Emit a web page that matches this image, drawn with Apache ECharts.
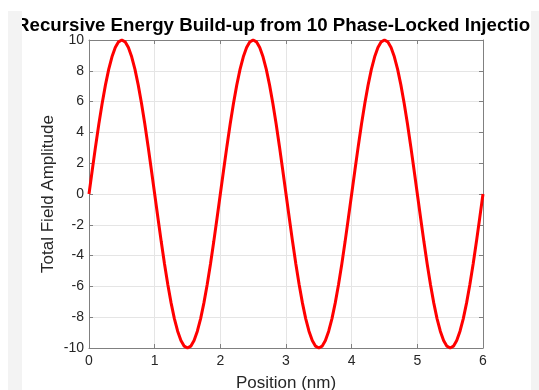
<!DOCTYPE html>
<html><head><meta charset="utf-8">
<script src="https://cdn.jsdelivr.net/npm/echarts@6/dist/echarts.min.js"></script>
<style>html,body{margin:0;padding:0;background:#fff}#c{width:539px;height:390px}</style>
</head><body><div id="c"></div>
<script>
var titleText = 'Recursive Energy Build-up from 10 Phase-Locked Injections';
var xLabel = 'Position (nm)';
var yLabel = 'Total Field Amplitude';
var xTicks = [0, 1, 2, 3, 4, 5, 6];
var yTicks = [-10, -8, -6, -4, -2, 0, 2, 4, 6, 8, 10];
var positions = [
0,0.05,0.1,0.15,0.2,0.25,0.3,0.35,0.4,0.45,0.5,0.55,0.6,0.65,0.7,0.75,0.8,0.85,0.9,0.95,
1,1.05,1.1,1.15,1.2,1.25,1.3,1.35,1.4,1.45,1.5,1.55,1.6,1.65,1.7,1.75,1.8,1.85,1.9,1.95,
2,2.05,2.1,2.15,2.2,2.25,2.3,2.35,2.4,2.45,2.5,2.55,2.6,2.65,2.7,2.75,2.8,2.85,2.9,2.95,
3,3.05,3.1,3.15,3.2,3.25,3.3,3.35,3.4,3.45,3.5,3.55,3.6,3.65,3.7,3.75,3.8,3.85,3.9,3.95,
4,4.05,4.1,4.15,4.2,4.25,4.3,4.35,4.4,4.45,4.5,4.55,4.6,4.65,4.7,4.75,4.8,4.85,4.9,4.95,
5,5.05,5.1,5.15,5.2,5.25,5.3,5.35,5.4,5.45,5.5,5.55,5.6,5.65,5.7,5.75,5.8,5.85,5.9,5.95,6
];
var amplitude = [
0,1.56,3.09,4.54,5.88,7.07,8.09,8.91,9.51,9.88,10,9.88,9.51,8.91,8.09,7.07,5.88,4.54,3.09,1.56,
0,-1.56,-3.09,-4.54,-5.88,-7.07,-8.09,-8.91,-9.51,-9.88,-10,-9.88,-9.51,-8.91,-8.09,-7.07,-5.88,-4.54,-3.09,-1.56,
0,1.56,3.09,4.54,5.88,7.07,8.09,8.91,9.51,9.88,10,9.88,9.51,8.91,8.09,7.07,5.88,4.54,3.09,1.56,
0,-1.56,-3.09,-4.54,-5.88,-7.07,-8.09,-8.91,-9.51,-9.88,-10,-9.88,-9.51,-8.91,-8.09,-7.07,-5.88,-4.54,-3.09,-1.56,
0,1.56,3.09,4.54,5.88,7.07,8.09,8.91,9.51,9.88,10,9.88,9.51,8.91,8.09,7.07,5.88,4.54,3.09,1.56,
0,-1.56,-3.09,-4.54,-5.88,-7.07,-8.09,-8.91,-9.51,-9.88,-10,-9.88,-9.51,-8.91,-8.09,-7.07,-5.88,-4.54,-3.09,-1.56,0
];
var points = positions.map(function (p, i) { return [p, amplitude[i]]; });

var chart = echarts.init(document.getElementById('c'), null, {renderer: 'canvas'});
var FONT = '"Liberation Sans", Arial, Helvetica, sans-serif';
var axisCol = '#808080';
var labelCol = '#262626';
var gridCol = '#e5e5e5';
var baseAxis = function (pos, show) {
  return {
    type: 'value', position: pos,
    axisLine: {show: true, onZero: false, lineStyle: {color: axisCol, width: 1}},
    axisTick: {show: true, inside: true, length: 4, lineStyle: {color: axisCol}},
    axisLabel: {show: show, color: labelCol, fontFamily: FONT, fontSize: 14},
    splitLine: {show: show, lineStyle: {color: gridCol, width: 1}}
  };
};
var x0 = Object.assign(baseAxis('bottom', true), {min: xTicks[0], max: xTicks[xTicks.length - 1], interval: 1,
  name: xLabel, nameLocation: 'middle', nameGap: 27, nameMoveOverlap: false,
  nameTextStyle: {color: labelCol, fontFamily: FONT, fontSize: 17}});
x0.axisLabel.margin = 6;
var x1 = Object.assign(baseAxis('top', false), {min: 0, max: 6, interval: 1});
var y0 = Object.assign(baseAxis('left', true), {min: yTicks[0], max: yTicks[yTicks.length - 1], interval: 2,
  name: yLabel, nameLocation: 'middle', nameGap: 32, nameMoveOverlap: false,
  nameTextStyle: {color: labelCol, fontFamily: FONT, fontSize: 17}});
y0.axisLabel.margin = 5;
var y1 = Object.assign(baseAxis('right', false), {min: -10, max: 10, interval: 2});

chart.setOption({
  animation: false,
  backgroundColor: '#ffffff',
  grid: {left: 89, right: 56, top: 40, bottom: 42, containLabel: false, outerBoundsMode: 'none'},
  xAxis: [x0, x1],
  yAxis: [y0, y1],
  series: [{
    type: 'line', data: points, showSymbol: false, symbol: 'none', smooth: false,
    lineStyle: {color: '#ff0000', width: 3}, clip: false, z: 5
  }],
  graphic: [
    {type: 'text', z: 10, style: {text: titleText, x: 0, y: 0, fill: '#000', font: 'bold 18.7px ' + FONT, textAlign: 'center'}, position: [284, 16]},
    {type: 'rect', z: 11, shape: {x: 0, y: 0, width: 8, height: 390}, style: {fill: '#ffffff'}},
    {type: 'rect', z: 11, shape: {x: 8, y: 11, width: 14, height: 379}, style: {fill: '#f3f3f3'}},
    {type: 'rect', z: 11, shape: {x: 531, y: 11, width: 8, height: 379}, style: {fill: '#f3f3f3'}}
  ]
});
</script></body></html>
